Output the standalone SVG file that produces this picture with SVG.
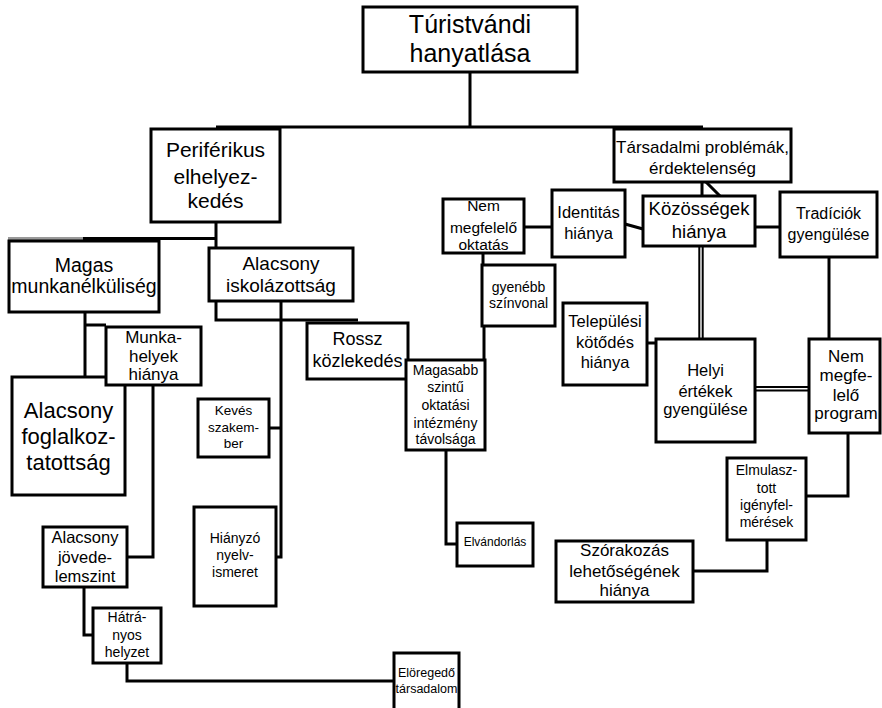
<svg xmlns="http://www.w3.org/2000/svg" width="882" height="708" viewBox="0 0 882 708">
<style>
.box{fill:#fff;stroke:#000;stroke-width:3}
.ln{stroke:#000;stroke-width:3;fill:none}
.dl{stroke:#000;stroke-width:2;fill:none}
text{font-family:"Liberation Sans",Arial,sans-serif;text-anchor:middle;fill:#000}
</style>
<rect width="882" height="708" fill="#fff"/>
<g id="connectors">
<path class="ln" d="M470,72 V127 M216,127 H703"/>
<path d="M8,238.5 H83" stroke="#999" stroke-width="3"/>
<path class="ln" d="M83,238.5 H216 M216,222 V248"/>
<path class="ln" d="M85,312 V377 M85,325 H106"/>
<path class="ln" d="M153,385 V557 H127"/>
<path class="ln" d="M84,587 V635 H93"/>
<path class="ln" d="M127,663 V681 H394"/>
<path class="ln" d="M216,301 V320 H358"/>
<path class="ln" d="M281,301 V557 H276 M269,428 H281"/>
<path class="ln" d="M484,326 V360"/>
<path class="ln" d="M446,450 V544 H457"/>
<path class="ln" d="M483,253 V265"/>
<path class="ln" d="M524,227 H552"/>
<path class="ln" d="M625,224 L643,229"/>
<path class="ln" d="M702,182 V196 M706,182 L720,196"/>
<path class="ln" d="M755,227 H780"/>
<path class="dl" d="M699.3,246 V339 M702.7,246 V339"/>
<path class="ln" d="M647,343 H656"/>
<path class="dl" d="M755,387 H809 M755,390.6 H809"/>
<path class="ln" d="M829,257 V339"/>
<path class="ln" d="M848,433 V496 H806"/>
<path class="ln" d="M767,540 V571 H693"/>
</g>
<g id="n-turistvandi"><rect class="box" x="363" y="7" width="214" height="65"/><text font-size="25"><tspan x="470" y="33">Túristvándi</tspan><tspan x="470" y="62">hanyatlása</tspan></text></g>
<g id="n-periferikus"><rect class="box" x="151" y="129" width="129" height="93"/><text font-size="21"><tspan x="215.5" y="157">Periférikus</tspan><tspan x="215.5" y="184">elhelyez-</tspan><tspan x="215.5" y="208">kedés</tspan></text></g>
<g id="n-tarsadalmi"><rect class="box" x="614" y="129" width="177" height="53"/><text font-size="17"><tspan x="702.5" y="153">Társadalmi problémák,</tspan><tspan x="702.5" y="174">érdektelenség</tspan></text></g>
<g id="n-magas"><rect class="box" x="9" y="241" width="150" height="71"/><text font-size="19.5"><tspan x="84" y="272">Magas</tspan><tspan x="84" y="293">munkanélküliség</tspan></text></g>
<g id="n-iskolazottsag"><rect class="box" x="209" y="248" width="144" height="53"/><text font-size="19"><tspan x="281" y="270">Alacsony</tspan><tspan x="281" y="292">iskolázottság</tspan></text></g>
<g id="n-foglalkoztatottsag"><rect class="box" x="12" y="377" width="113" height="118"/><text font-size="22"><tspan x="68.5" y="418">Alacsony</tspan><tspan x="68.5" y="444">foglalkoz-</tspan><tspan x="68.5" y="470">tatottság</tspan></text></g>
<g id="n-munkahelyek"><rect class="box" x="106" y="327" width="95" height="58"/><text font-size="17"><tspan x="153.5" y="343">Munka-</tspan><tspan x="153.5" y="362">helyek</tspan><tspan x="153.5" y="380">hiánya</tspan></text></g>
<g id="n-jovedelem"><rect class="box" x="43" y="527" width="84" height="60"/><text font-size="16.5"><tspan x="85" y="543">Alacsony</tspan><tspan x="85" y="563">jövede-</tspan><tspan x="85" y="582">lemszint</tspan></text></g>
<g id="n-hatranyos"><rect class="box" x="93" y="608" width="68" height="55"/><text font-size="14"><tspan x="127" y="622">Hátrá-</tspan><tspan x="127" y="640">nyos</tspan><tspan x="127" y="657">helyzet</tspan></text></g>
<g id="n-eloregedo"><rect class="box" x="394" y="653" width="65" height="62"/><text font-size="12.5"><tspan x="426.5" y="677">Elöregedő</tspan><tspan x="426.5" y="693">társadalom</tspan></text></g>
<g id="n-rossz"><rect class="box" x="307" y="323" width="101" height="56"/><text font-size="18"><tspan x="357.5" y="345">Rossz</tspan><tspan x="357.5" y="367">közlekedés</tspan></text></g>
<g id="n-magasabb"><rect class="box" x="406" y="360" width="79" height="90"/><text font-size="14"><tspan x="445.5" y="375">Magasabb</tspan><tspan x="445.5" y="392">szintű</tspan><tspan x="445.5" y="410">oktatási</tspan><tspan x="445.5" y="428">intézmény</tspan><tspan x="445.5" y="444">távolsága</tspan></text></g>
<g id="n-keves"><rect class="box" x="198" y="399" width="71" height="58"/><text font-size="13.5"><tspan x="233.5" y="415">Kevés</tspan><tspan x="233.5" y="432">szakem-</tspan><tspan x="233.5" y="448">ber</tspan></text></g>
<g id="n-hianyzo"><rect class="box" x="194" y="507" width="82" height="99"/><text font-size="14"><tspan x="235" y="543">Hiányzó</tspan><tspan x="235" y="560">nyelv-</tspan><tspan x="235" y="577">ismeret</tspan></text></g>
<g id="n-elvandorlas"><rect class="box" x="457" y="523" width="76" height="43"/><text font-size="12" x="495" y="546">Elvándorlás</text></g>
<g id="n-nem-oktatas"><rect class="box" x="443" y="199" width="81" height="54"/><text font-size="15.5"><tspan x="483.5" y="211">Nem</tspan><tspan x="483.5" y="233">megfelelő</tspan><tspan x="483.5" y="250">oktatás</tspan></text></g>
<g id="n-gyenebb"><rect class="box" x="482" y="265" width="73" height="61"/><text font-size="14"><tspan x="518.5" y="292">gyenébb</tspan><tspan x="518.5" y="308">színvonal</tspan></text></g>
<g id="n-identitas"><rect class="box" x="552" y="190" width="73" height="67"/><text font-size="16.5"><tspan x="588.5" y="218">Identitás</tspan><tspan x="588.5" y="239">hiánya</tspan></text></g>
<g id="n-kozossegek"><rect class="box" x="643" y="196" width="112" height="50"/><text font-size="18.5"><tspan x="699" y="215">Közösségek</tspan><tspan x="699" y="238">hiánya</tspan></text></g>
<g id="n-tradiciok"><rect class="box" x="780" y="192" width="97" height="65"/><text font-size="16"><tspan x="828.5" y="219">Tradíciók</tspan><tspan x="828.5" y="240">gyengülése</tspan></text></g>
<g id="n-telepulesi"><rect class="box" x="563" y="303" width="84" height="82"/><text font-size="16.5"><tspan x="605" y="327">Települési</tspan><tspan x="605" y="348">kötődés</tspan><tspan x="605" y="368">hiánya</tspan></text></g>
<g id="n-helyi"><rect class="box" x="656" y="339" width="99" height="103"/><text font-size="16.5"><tspan x="705.5" y="376">Helyi</tspan><tspan x="705.5" y="397">értékek</tspan><tspan x="705.5" y="415">gyengülése</tspan></text></g>
<g id="n-nem-program"><rect class="box" x="809" y="339" width="71" height="94"/><text font-size="17"><tspan x="846" y="362">Nem</tspan><tspan x="846" y="381">megfe-</tspan><tspan x="846" y="401">lelő</tspan><tspan x="846" y="419">program</tspan></text></g>
<g id="n-elmulasztott"><rect class="box" x="727" y="458" width="79" height="82"/><text font-size="14"><tspan x="766.5" y="475">Elmulasz-</tspan><tspan x="766.5" y="493">tott</tspan><tspan x="766.5" y="510">igényfel-</tspan><tspan x="766.5" y="527">mérések</tspan></text></g>
<g id="n-szorakozas"><rect class="box" x="556" y="541" width="137" height="61"/><text font-size="17"><tspan x="624.5" y="556">Szórakozás</tspan><tspan x="624.5" y="577">lehetőségének</tspan><tspan x="624.5" y="596">hiánya</tspan></text></g>
</svg>
